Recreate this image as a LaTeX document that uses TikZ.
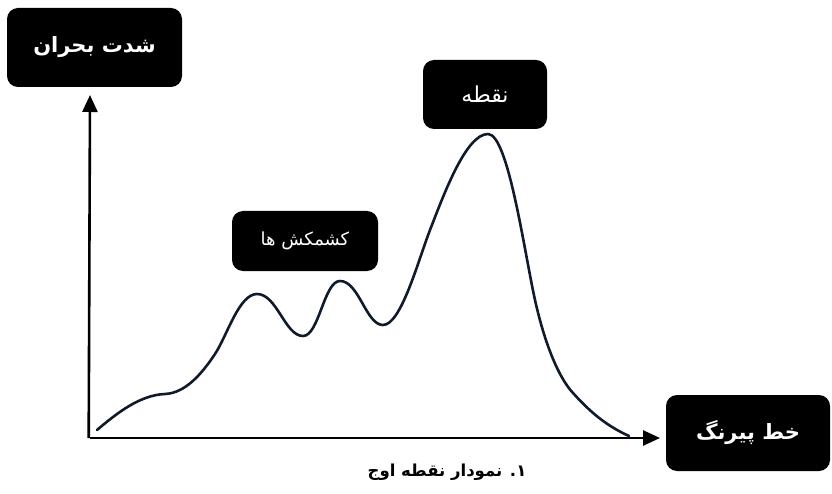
\documentclass[tikz,border=0pt]{standalone}
\usepackage{fontspec}
\TeXXeTstate=1
\newfontfamily\fa[Script=Arabic]{DejaVu Sans}
\usetikzlibrary{arrows.meta}
\definecolor{curvecol}{HTML}{0F1A2A}
\tikzset{
  darkbox/.style={fill=black, rounded corners=11pt, text=white, inner sep=0pt, align=center},
  axisline/.style={line width=2.6pt, -{Triangle[length=17pt,width=15pt]}},
  plotline/.style={line width=2.6pt, curvecol, line cap=round, line join=round},
}
\begin{document}
\begin{tikzpicture}[x=1pt,y=-1pt]
\useasboundingbox (0,0) rectangle (832,494);
% boxes
\node[darkbox, minimum width=175pt, minimum height=79pt] (A) at (94.5,47.5)
  {\fa\bfseries\fontsize{21}{25}\selectfont\beginR شدت بحران\endR};
\node[darkbox, minimum width=124pt, minimum height=69pt] (B) at (485,94.5)
  {\fa\fontsize{22}{26}\selectfont\beginR نقطه\endR};
\node[darkbox, minimum width=146pt, minimum height=60pt] (C) at (305,241)
  {\fa\fontsize{18}{22}\selectfont\beginR کشمکش ها\endR};
\node[darkbox, minimum width=164pt, minimum height=76pt] (D) at (748,433)
  {\fa\bfseries\fontsize{21}{25}\selectfont\beginR خط پیرنگ\endR};
\node[inner sep=0pt] (cap) at (447,472)
  {\fa\bfseries\fontsize{16.5}{20}\selectfont\beginR ۱. نمودار نقطه اوج\endR};
% axes
\coordinate (O) at (90,438);
\coordinate (ytip) at (90,95);
\coordinate (xtip) at (660,438);
\draw[axisline] ([xshift=-1.3pt]O) -- (ytip);
\draw[axisline] (O) -- (xtip);
% curve
\draw[plotline] (97,430)
  .. controls (117,413) and (140,395) .. (165,394)
  .. controls (185,393) and (201,375) .. (215,354)
  .. controls (227,336) and (239,294) .. (257,294)
  .. controls (277,294) and (285,336) .. (303,336)
  .. controls (319,336) and (324,281) .. (340,281)
  .. controls (359,281) and (366,325) .. (383,325)
  .. controls (401,325) and (418,261) .. (430,230)
  .. controls (444,194) and (466,134) .. (488,134)
  .. controls (508,134) and (524,250) .. (535,300)
  .. controls (545,345) and (559,378) .. (573,393)
  .. controls (591,413) and (607,426) .. (629,436);
\end{tikzpicture}
\end{document}
